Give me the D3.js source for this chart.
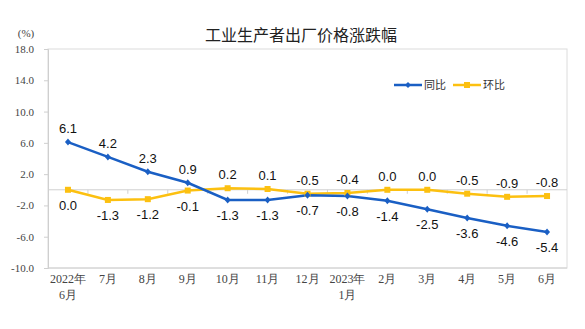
<!DOCTYPE html>
<html><head><meta charset="utf-8">
<script src="https://cdn.jsdelivr.net/npm/d3@7"></script>
<style>body{margin:0;background:#fff}svg{display:block}</style>
</head><body>
<svg id="c" width="585" height="329"></svg>
<script>
const categories = [["2022年","6月"],["7月"],["8月"],["9月"],["10月"],["11月"],["12月"],["2023年","1月"],["2月"],["3月"],["4月"],["5月"],["6月"]];
const yoy = [6.1, 4.2, 2.3, 0.9, -1.3, -1.3, -0.7, -0.8, -1.4, -2.5, -3.6, -4.6, -5.4];
const mom = [0.0, -1.3, -1.2, -0.1, 0.2, 0.1, -0.5, -0.4, 0.0, 0.0, -0.5, -0.9, -0.8];
const yTicks = [18, 14, 10, 6, 2, -2, -6, -10];
const yoyAbove = [true, true, true, true, false, false, false, false, false, false, false, false, false];
const momAbove = [false, false, false, false, true, true, true, true, true, true, true, true, true];

const svg = d3.select("#c");
const L = 48, R = 567, T = 49, B = 268;
const x = d3.scaleBand().domain(d3.range(categories.length)).range([L, R]);
const y = d3.scaleLinear().domain([-10, 18]).range([B, T]);
const cx = i => x(i) + x.bandwidth() / 2;
const BLUE = "#1a5fc4", YEL = "#fcc010";
const serif = "'Liberation Serif','DejaVu Serif',serif";
const sans = "'Liberation Sans',Arial,sans-serif";
const fmt = d => d.toFixed(1);

// frame
svg.append("rect").attr("x", L).attr("y", T).attr("width", R - L).attr("height", B - T)
  .attr("fill", "none").attr("stroke", "#dcdcdc").attr("stroke-width", 1);
// left axis
const ya = svg.append("g").attr("transform", `translate(${L},0)`)
  .call(d3.axisLeft(y).tickValues(yTicks).tickFormat(fmt).tickSize(4).tickPadding(10));
ya.select(".domain").attr("stroke", "#cfcfcf");
ya.selectAll("line").attr("stroke", "#cfcfcf");
ya.selectAll("text").attr("font-family", serif).attr("font-size", 11).attr("fill", "#444");
// bottom line
svg.append("line").attr("x1", L).attr("x2", R).attr("y1", B).attr("y2", B).attr("stroke", "#d0d0d0");
// zero line with ticks at category boundaries
svg.append("line").attr("x1", L).attr("x2", R).attr("y1", y(0)).attr("y2", y(0)).attr("stroke", "#d0d0d0");
svg.selectAll(".zt").data(d3.range(1, categories.length)).join("line")
  .attr("x1", i => x(i)).attr("x2", i => x(i)).attr("y1", y(0)).attr("y2", y(0) + 4).attr("stroke", "#d0d0d0");

// x labels
const xl = svg.selectAll(".xl").data(categories).join("text")
  .attr("x", (d, i) => cx(i)).attr("y", 283).attr("text-anchor", "middle")
  .attr("font-family", serif).attr("font-size", 12).attr("fill", "#444");
xl.each(function(d) {
  const t = d3.select(this);
  d.forEach((s, k) => t.append("tspan").attr("x", t.attr("x")).attr("dy", k ? 16 : 0).text(s));
});

// lines
const line = d3.line().x((d, i) => cx(i)).y(d => y(d));
svg.append("path").datum(mom).attr("d", line).attr("fill", "none").attr("stroke", YEL).attr("stroke-width", 2.5);
svg.append("path").datum(yoy).attr("d", line).attr("fill", "none").attr("stroke", BLUE).attr("stroke-width", 2.5);
svg.selectAll(".ms").data(mom).join("rect")
  .attr("x", (d, i) => cx(i) - 3).attr("y", d => y(d) - 3).attr("width", 6).attr("height", 6).attr("fill", YEL);
svg.selectAll(".md").data(yoy).join("path")
  .attr("d", (d, i) => `M${cx(i)},${y(d) - 3.5}L${cx(i) + 3},${y(d)}L${cx(i)},${y(d) + 3.5}L${cx(i) - 3},${y(d)}Z`)
  .attr("fill", BLUE);

// data labels
function labels(data, above) {
  svg.append("g").selectAll("text").data(data).join("text")
    .attr("x", (d, i) => cx(i)).attr("y", (d, i) => above[i] ? y(d) - 9 : y(d) + 20)
    .attr("text-anchor", "middle").attr("font-family", sans).attr("font-size", 13).attr("fill", "#111")
    .text(d => fmt(d));
}
labels(yoy, yoyAbove);
labels(mom, momAbove);

// title
svg.append("text").attr("x", 301).attr("y", 41).attr("text-anchor", "middle")
  .attr("font-family", "'Noto Sans CJK SC',sans-serif").attr("font-size", 16).attr("fill", "#222").text("工业生产者出厂价格涨跌幅");
svg.append("text").attr("x", 26).attr("y", 37).attr("text-anchor", "middle")
  .attr("font-family", serif).attr("font-size", 11).attr("fill", "#444").text("(%)");

// legend
const leg = [["同比", BLUE, "d"], ["环比", YEL, "s"]];
leg.forEach(([name, col, m], k) => {
  const x0 = k ? 453 : 394, yy = 85;
  svg.append("line").attr("x1", x0).attr("x2", x0 + 28).attr("y1", yy).attr("y2", yy).attr("stroke", col).attr("stroke-width", 2.5);
  if (m === "s") svg.append("rect").attr("x", x0 + 11).attr("y", yy - 3).attr("width", 6).attr("height", 6).attr("fill", col);
  else svg.append("path").attr("d", `M${x0 + 14},${yy - 3}L${x0 + 17},${yy}L${x0 + 14},${yy + 3}L${x0 + 11},${yy}Z`).attr("fill", col);
  svg.append("text").attr("x", x0 + 30).attr("y", yy + 4).attr("font-family", "'Noto Sans CJK SC',sans-serif")
    .attr("font-size", 11).attr("fill", "#333").text(name);
});
</script>
</body></html>
